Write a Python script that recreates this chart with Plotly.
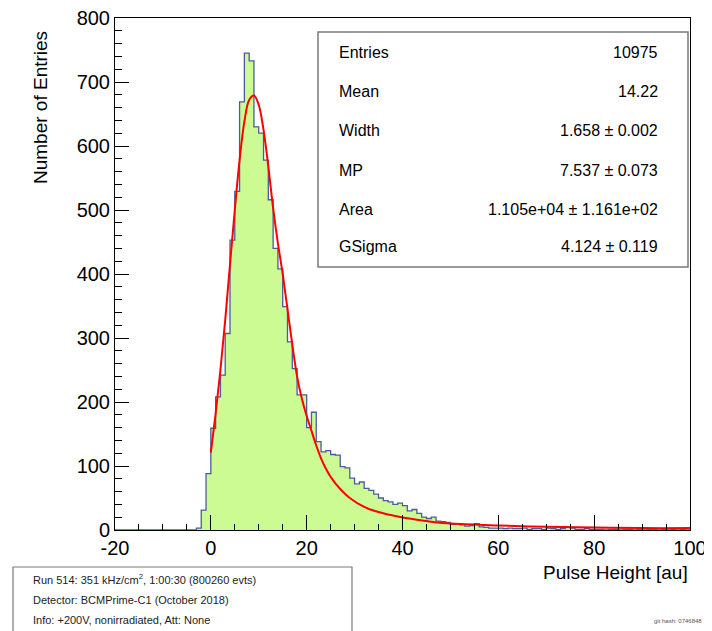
import plotly.graph_objects as go

# ---------------- data ----------------
bin_left_edges = list(range(-20, 100))  # 1 au bins from -20 to 100
counts = (
    [0] * 17 +                                            # -20 .. -4
    [3, 31, 88,                                           # -3 .. -1
     159, 208, 242, 307, 453, 529, 669, 745, 733, 630,    # 0 .. 9
     620, 578, 516, 440, 408, 349, 294, 252, 211, 211,    # 10 .. 19
     160, 184, 138, 122, 124, 118, 117, 99, 97, 81,       # 20 .. 29
     72, 75, 65, 62, 56, 50, 46, 44, 40, 42,              # 30 .. 39
     38, 30, 32, 26, 20, 18, 20, 14, 13, 12,              # 40 .. 49
     9, 10, 8, 6, 7, 10, 5, 4, 3, 3,                      # 50 .. 59
     3, 2, 3, 2, 2, 3, 1, 2, 2, 1,                        # 60 .. 69
     3, 2, 1, 2, 4, 3, 1, 1, 2, 1,                        # 70 .. 79
     1, 1, 0, 1, 1, 0, 1, 1, 0, 1,                        # 80 .. 89
     0, 1, 1, 0, 1, 0, 1, 0, 1, 0]                        # 90 .. 99
)

fit_x = [0, 1, 2, 3, 4, 5, 6, 7, 8, 9, 10, 11, 12, 13, 14, 15, 16, 17, 18, 19,
         20, 21, 22, 23, 24, 25, 27, 29, 32, 35, 39, 43, 46, 50, 53, 57, 60,
         65, 70, 80, 90, 100]
fit_y = [121, 182, 250, 328, 415, 500, 578, 638, 672, 679, 664, 625, 568, 503, 448, 400, 345, 290, 240, 205,
         178, 155, 132, 112, 96, 83, 64, 50, 36, 28, 21, 16, 13, 10, 9, 8, 7,
         6, 5, 4, 3, 3]

x_tickvals = [-20, 0, 20, 40, 60, 80, 100]
x_ticktext = ["-20", "0", "20", "40", "60", "80", "100"]

stats_labels = ["Entries", "Mean", "Width", "MP", "Area", "GSigma"]
stats_values = ["10975", "14.22", "1.658 ± 0.002", "7.537 ± 0.073",
                "1.105e+04 ± 1.161e+02", "4.124 ± 0.119"]

info_lines = ["Run 514: 351 kHz/cm<sup>2</sup>, 1:00:30 (800260 evts)",
              "Detector: BCMPrime-C1 (October 2018)",
              "Info: +200V, nonirradiated, Att: None"]
git_text = "git hash: 0746848"

# ---------------- geometry (page pixels -> paper) ----------------
OFF = 8                     # default page margin around the figure
W, H = 712 - OFF, 631 - OFF
PL, PR, PT, PB = 115, 690, 18, 530   # plot area in page pixels
L, R, T, B = PL - OFF, PR - OFF, PT - OFF, PB - OFF


def px(x):
    return (x - PL) / (PR - PL)


def py(y):
    return (PB - y) / (PB - PT)


FONT = "Liberation Sans, Arial, Helvetica, sans-serif"

fig = go.Figure()

# histogram (step outline + fill)
step_x = bin_left_edges + [bin_left_edges[-1] + 1]
step_y = counts + [counts[-1]]
fig.add_trace(go.Scatter(
    x=step_x, y=step_y, mode="lines", line_shape="hv",
    line=dict(color="#4b5c9e", width=1.3),
    fill="tozeroy", fillcolor="#ccfa93",
    hoverinfo="skip", showlegend=False))

# fit curve
fig.add_trace(go.Scatter(
    x=fit_x, y=fit_y, mode="lines", line_shape="spline",
    line=dict(color="#ff0000", width=2),
    hoverinfo="skip", showlegend=False))

shapes = []
annotations = []

# stats box
shapes.append(dict(type="rect", xref="paper", yref="paper",
                   x0=px(318), x1=px(688), y0=py(267), y1=py(32),
                   line=dict(color="#7a7a7a", width=1.5), fillcolor="white", layer="above"))
row_y = [52, 91.5, 130, 170, 209, 246.5]
for lab, val, ry in zip(stats_labels, stats_values, row_y):
    annotations.append(dict(text=lab, x=px(337), y=py(ry), xref="paper", yref="paper",
                            xanchor="left", yanchor="middle", showarrow=False,
                            font=dict(family=FONT, size=16, color="black")))
    annotations.append(dict(text=val, x=px(660), y=py(ry), xref="paper", yref="paper",
                            xanchor="right", yanchor="middle", showarrow=False,
                            font=dict(family=FONT, size=16, color="black")))

# info box
shapes.append(dict(type="rect", xref="paper", yref="paper",
                   x0=px(13), x1=px(352), y0=py(645), y1=py(567),
                   line=dict(color="#7a7a7a", width=1.2), fillcolor="white", layer="above"))
for line, ly in zip(info_lines, [579, 600, 620]):
    annotations.append(dict(text=line, x=px(31), y=py(ly), xref="paper", yref="paper",
                            xanchor="left", yanchor="middle", showarrow=False,
                            font=dict(family=FONT, size=11, color="#222")))

annotations.append(dict(text=git_text, x=px(704), y=py(621), xref="paper", yref="paper",
                        xanchor="right", yanchor="middle", showarrow=False,
                        font=dict(family=FONT, size=6, color="#555")))

# axis titles
annotations.append(dict(text="Number of Entries", x=px(40), y=py(108), xref="paper", yref="paper",
                        xanchor="center", yanchor="middle", textangle=-90, showarrow=False,
                        font=dict(family=FONT, size=19, color="black")))
annotations.append(dict(text="Pulse Height [au]", x=px(690), y=py(572), xref="paper", yref="paper",
                        xanchor="right", yanchor="middle", showarrow=False,
                        font=dict(family=FONT, size=19, color="black")))

fig.update_layout(
    width=W, height=H,
    margin=dict(l=L, r=W - R, t=T, b=H - B, autoexpand=False),
    paper_bgcolor="white", plot_bgcolor="white",
    showlegend=False,
    shapes=shapes, annotations=annotations,
    font=dict(family=FONT, color="black"),
)

fig.update_xaxes(
    range=[-20, 100], tickmode="array", tickvals=x_tickvals, ticktext=x_ticktext,
    ticks="inside", ticklen=15, tickwidth=1, tickcolor="black",
    minor=dict(tickmode="linear", tick0=-20, dtick=5, ticks="inside", ticklen=6,
               tickwidth=1, tickcolor="black", showgrid=False),
    showline=True, linecolor="black", linewidth=1, mirror=True,
    showgrid=False, zeroline=False, automargin=False, ticklabeloverflow="allow",
    tickfont=dict(family=FONT, size=20, color="black"),
)
fig.update_yaxes(
    range=[0, 800], tickmode="linear", tick0=0, dtick=100,
    ticks="inside", ticklen=14, tickwidth=1, tickcolor="black",
    minor=dict(tickmode="linear", tick0=0, dtick=20, ticks="inside", ticklen=7,
               tickwidth=1, tickcolor="black", showgrid=False),
    showline=True, linecolor="black", linewidth=1, mirror=True,
    showgrid=False, zeroline=False, automargin=False, ticklabeloverflow="allow",
    tickfont=dict(family=FONT, size=20, color="black"),
)

fig.write_html("out.html")
